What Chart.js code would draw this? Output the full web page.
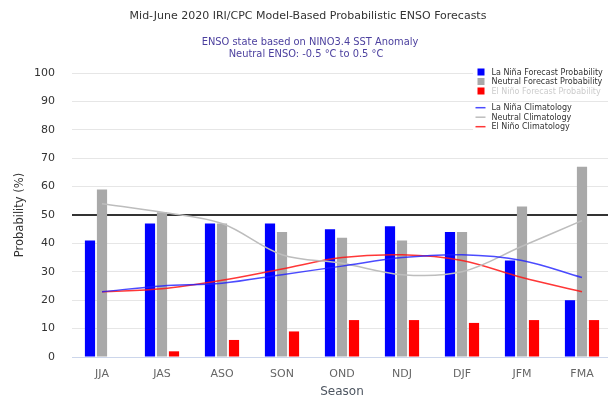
<!DOCTYPE html>
<html>
<head>
<meta charset="utf-8">
<script src="https://cdn.jsdelivr.net/npm/chart.js@4"></script>
<style>
  html, body { margin: 0; padding: 0; overflow: hidden; background: #fff; }
  #wrap { position: relative; width: 612px; height: 399px; }
</style>
</head>
<body>
<div id="wrap"><canvas id="c" width="612" height="399"></canvas></div>
<script>
// Seasons and probabilities (%)
const seasons = ['JJA', 'JAS', 'ASO', 'SON', 'OND', 'NDJ', 'DJF', 'JFM', 'FMA'];
const laNinaForecast  = [41, 47, 47, 47, 45, 46, 44, 34, 20];
const neutralForecast = [59, 51, 47, 44, 42, 41, 44, 53, 67];
const elNinoForecast  = [0, 2, 6, 9, 13, 13, 12, 13, 13];
const laNinaClimatology  = [23, 25, 26, 29, 32, 35, 36, 34, 28];
const neutralClimatology = [54, 51, 47, 36, 33, 29, 30, 39, 48];
const elNinoClimatology  = [23, 24, 27, 31, 35, 36, 34, 28, 23];
const yTickValues = [0, 10, 20, 30, 40, 50, 60, 70, 80, 90, 100];
const referenceLevel = 50;

const FONT = "'DejaVu Sans', sans-serif";

const titleText = 'Mid-June 2020 IRI/CPC Model-Based Probabilistic ENSO Forecasts';
const subtitleLines = ['ENSO state based on NINO3.4 SST Anomaly', 'Neutral ENSO: -0.5 °C to 0.5 °C'];

const barLegend = [
  { label: 'La Niña Forecast Probability', color: '#0000ff', text: '#333333' },
  { label: 'Neutral Forecast Probability', color: '#a9a9a9', text: '#333333' },
  { label: 'El Niño Forecast Probability', color: '#ff0000', text: '#cccccc' }
];
const lineLegend = [
  { label: 'La Niña Climatology', color: 'rgba(30,30,255,0.8)' },
  { label: 'Neutral Climatology', color: '#bdbdbd' },
  { label: 'El Niño Climatology', color: 'rgba(255,20,20,0.85)' }
];

// Titles and the two-part legend box
const decorations = {
  id: 'decorations',
  afterDraw(chart) {
    const ctx = chart.ctx;
    ctx.save();
    ctx.textBaseline = 'middle';
    ctx.textAlign = 'center';
    ctx.fillStyle = '#333333';
    ctx.font = '11px ' + FONT;
    ctx.fillText(titleText, 308, 16);
    ctx.fillStyle = '#4b3f9e';
    ctx.font = '9.9px ' + FONT;
    ctx.fillText(subtitleLines[0], 310, 42.5);
    ctx.fillText(subtitleLines[1], 306, 54);

    // legend panels
    ctx.fillStyle = '#ffffff';
    ctx.fillRect(473, 66, 139, 30);
    ctx.fillRect(473, 103, 139, 27);
    ctx.textAlign = 'left';
    ctx.font = '8px ' + FONT;
    barLegend.forEach((item, i) => {
      const y = 72 + i * 9.5;
      ctx.fillStyle = item.color;
      ctx.fillRect(477.5, y - 3.5, 7, 7);
      ctx.fillStyle = item.text;
      ctx.fillText(item.label, 491.5, y + 0.5);
    });
    lineLegend.forEach((item, i) => {
      const y = 107.7 + i * 9.5;
      ctx.strokeStyle = item.color;
      ctx.lineWidth = 1.5;
      ctx.beginPath();
      ctx.moveTo(475.5, y);
      ctx.lineTo(485.5, y);
      ctx.stroke();
      ctx.fillStyle = '#333333';
      ctx.fillText(item.label, 491.5, y + 0.5);
    });
    ctx.restore();
  }
};

new Chart(document.getElementById('c'), {
  data: {
    labels: seasons,
    datasets: [
      { type: 'bar', label: 'La Niña Forecast Probability', data: laNinaForecast, backgroundColor: '#0000ff', order: 2 },
      { type: 'bar', label: 'Neutral Forecast Probability', data: neutralForecast, backgroundColor: '#a9a9a9', order: 2 },
      { type: 'bar', label: 'El Niño Forecast Probability', data: elNinoForecast, backgroundColor: '#ff0000', order: 2 },
      { type: 'line', label: 'La Niña Climatology', data: laNinaClimatology, borderColor: lineLegend[0].color, borderWidth: 1.5, pointRadius: 0, tension: 0.35, order: 1 },
      { type: 'line', label: 'Neutral Climatology', data: neutralClimatology, borderColor: lineLegend[1].color, borderWidth: 1.5, pointRadius: 0, tension: 0.35, order: 1 },
      { type: 'line', label: 'El Niño Climatology', data: elNinoClimatology, borderColor: lineLegend[2].color, borderWidth: 1.5, pointRadius: 0, tension: 0.35, order: 1 }
    ]
  },
  options: {
    responsive: false,
    animation: false,
    devicePixelRatio: 1,
    layout: { padding: { top: 73, right: 0, bottom: 0, left: 0 } },
    datasets: { bar: { categoryPercentage: 0.6, barPercentage: 0.85 } },
    plugins: { legend: { display: false }, tooltip: { enabled: false } },
    scales: {
      x: {
        grid: { display: false, drawTicks: false },
        border: { color: '#ccd6eb', width: 1 },
        ticks: { color: '#666666', font: { family: FONT, size: 11 }, padding: 11 },
        title: { display: true, text: 'Season', color: '#4d5560', font: { family: FONT, size: 12 }, padding: { top: 3, bottom: 0 } },
        afterFit(scale) { scale.height = 42; }
      },
      y: {
        min: 0, max: 100,
        afterBuildTicks(scale) { scale.ticks = yTickValues.map(v => ({ value: v })); },
        grid: {
          drawTicks: false,
          color: ctx => (ctx.tick && ctx.tick.value === referenceLevel) ? '#333333' : '#e6e6e6',
          lineWidth: ctx => (ctx.tick && ctx.tick.value === referenceLevel) ? 2 : 1
        },
        border: { display: false },
        ticks: { color: '#333333', font: { family: FONT, size: 11 }, padding: 17 },
        title: { display: true, text: 'Probability (%)', color: '#333333', font: { family: FONT, size: 11.5 }, padding: { top: 13, bottom: 0 } },
        afterFit(scale) { scale.width = 72; }
      }
    }
  },
  plugins: [decorations]
});
</script>
</body>
</html>
